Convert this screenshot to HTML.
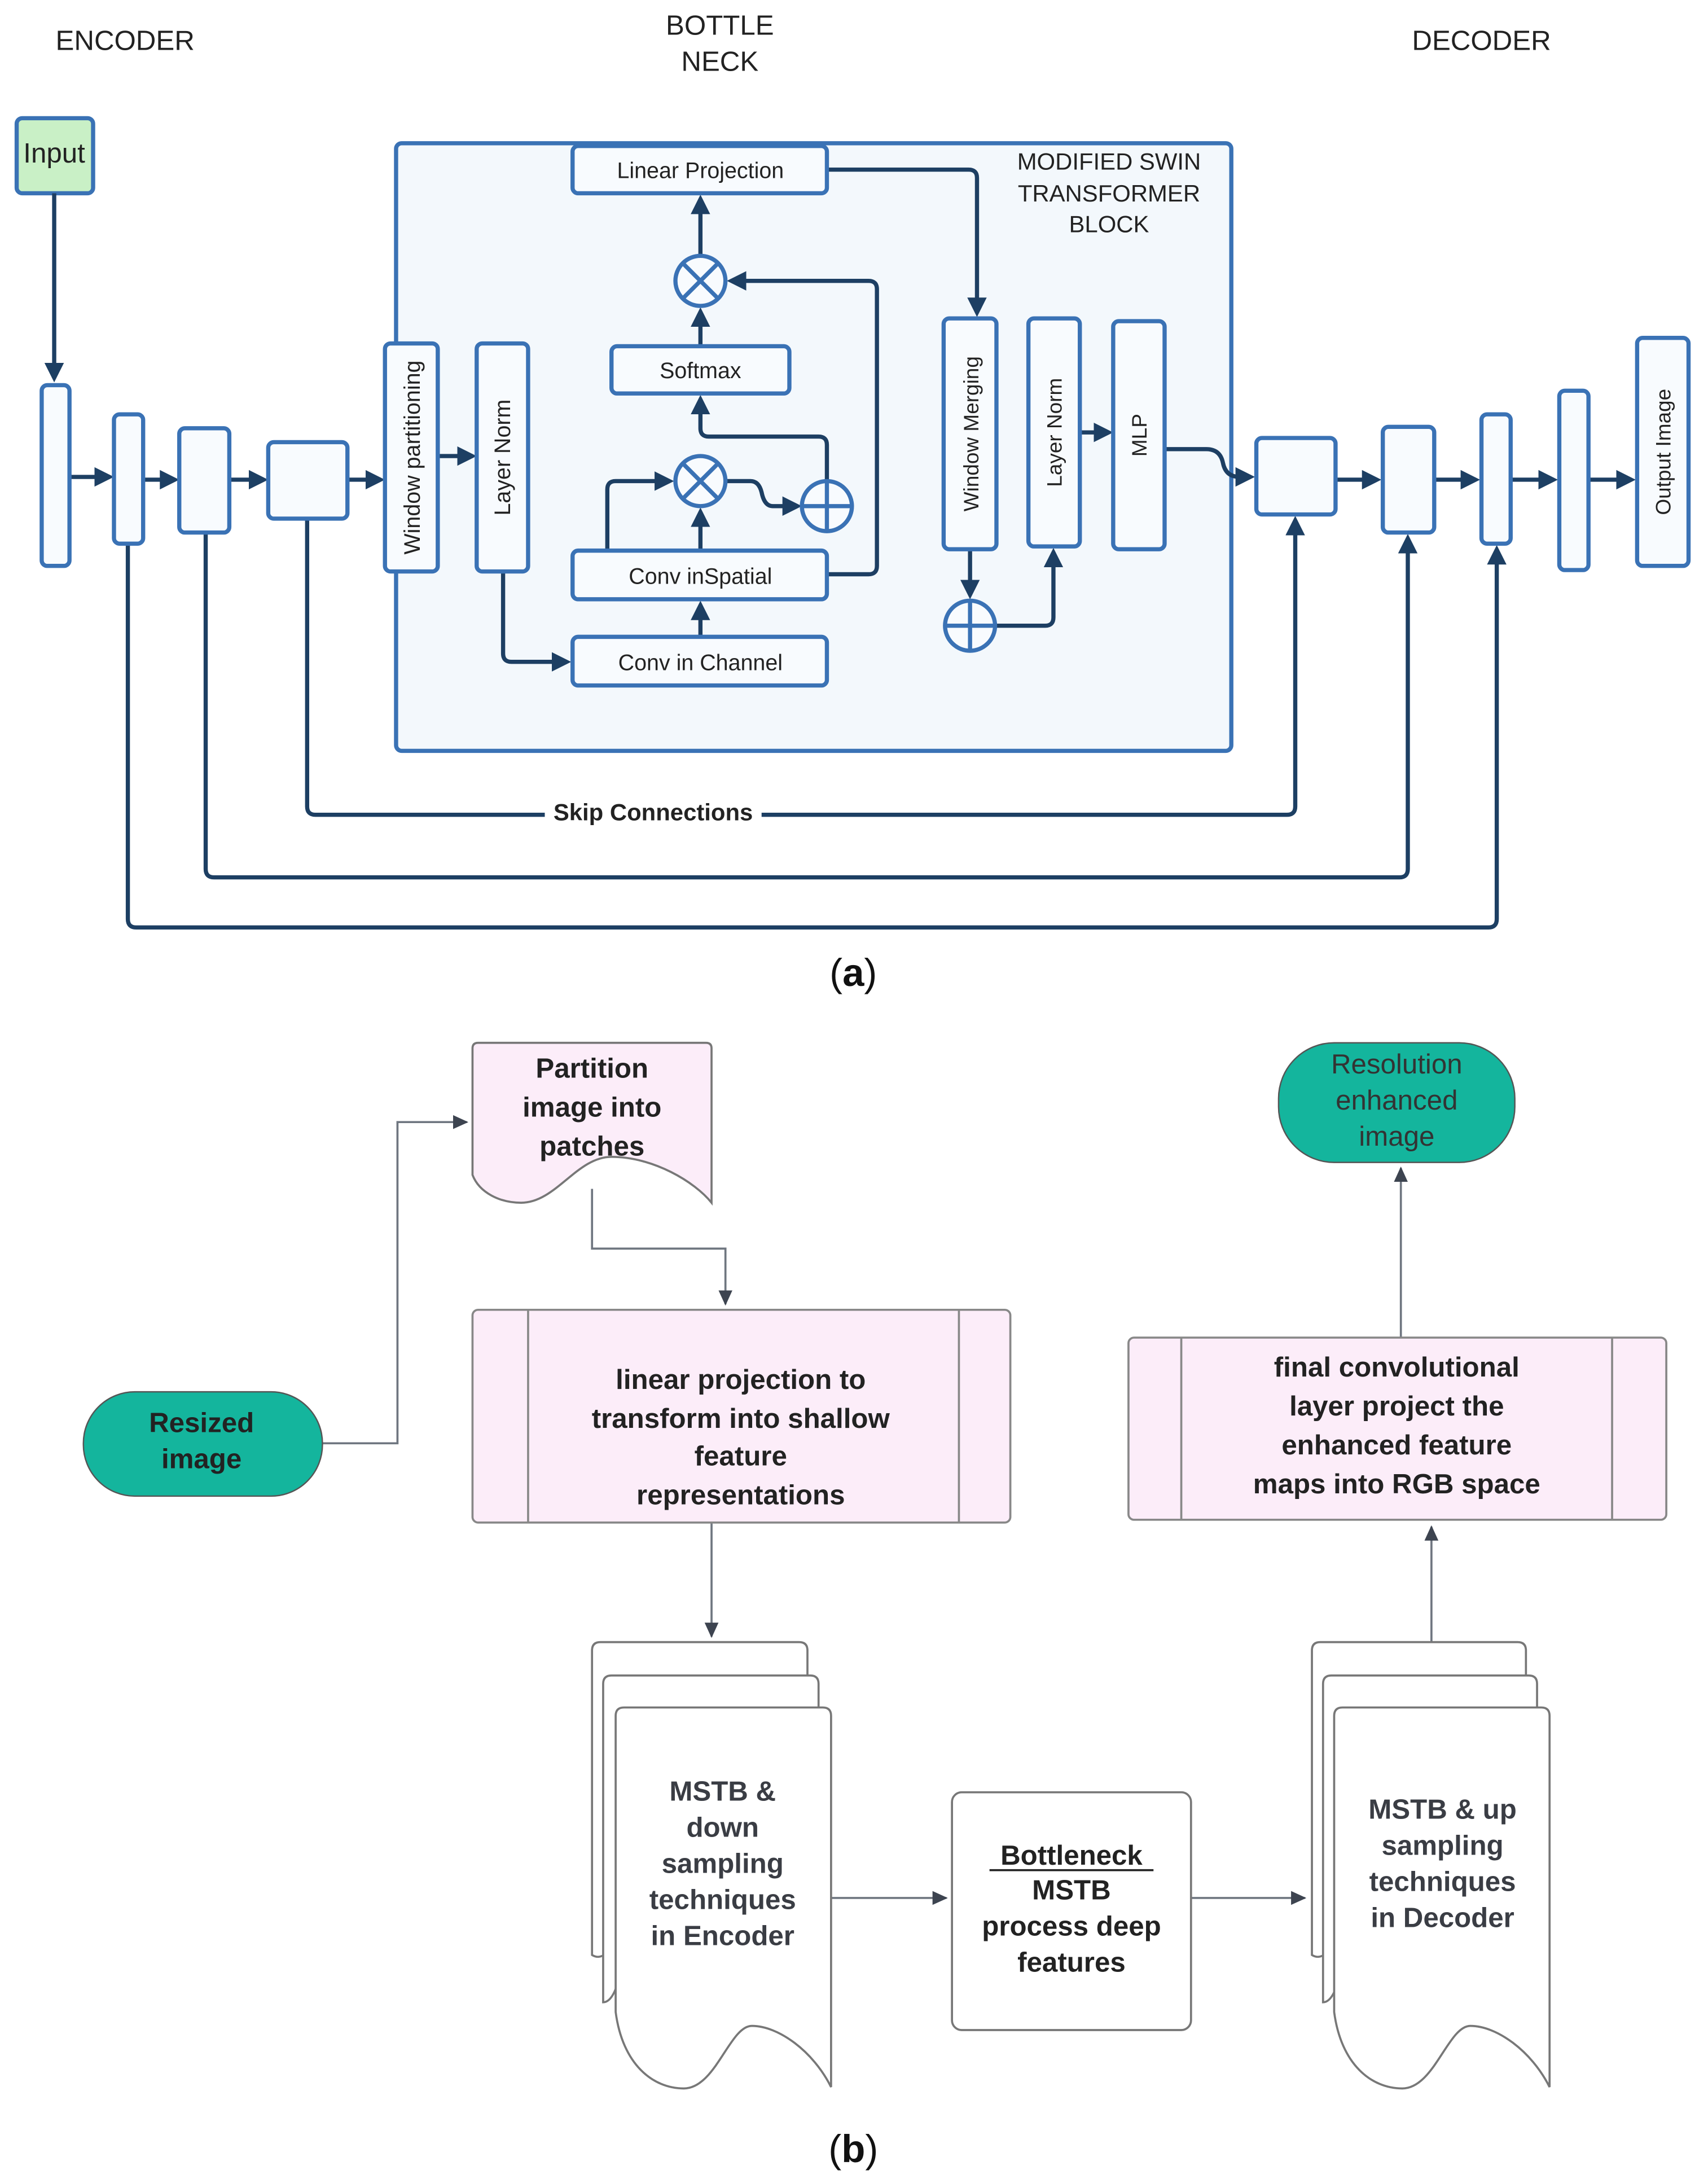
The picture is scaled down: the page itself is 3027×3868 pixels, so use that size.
<!DOCTYPE html>
<html><head><meta charset="utf-8"><style>
html,body{margin:0;padding:0;background:#fff;}
svg{display:block;}
text{font-family:"Liberation Sans",sans-serif;}
</style></head><body>
<svg width="3027" height="3868" viewBox="0 0 1229 1570" preserveAspectRatio="none" xmlns="http://www.w3.org/2000/svg">
<defs>
<marker id="a" markerWidth="16" markerHeight="16" refX="11" refY="7" orient="auto" markerUnits="userSpaceOnUse"><path d="M0,0 L14,7 L0,14 z" fill="#1d3f63"/></marker>
<marker id="g" markerWidth="12" markerHeight="12" refX="10" refY="6" orient="auto" markerUnits="userSpaceOnUse"><path d="M0,1 L11,6 L0,11 z" fill="#3d4450"/></marker>
</defs>
<rect width="1229" height="1570" fill="#fff"/>
<g font-size="20" fill="#222" text-anchor="middle">
<text x="90" y="36">ENCODER</text>
<text x="518" y="25">BOTTLE</text><text x="518" y="51">NECK</text>
<text x="1066" y="36">DECODER</text>
</g>
<rect x="285" y="103" width="601" height="437" rx="4" fill="#f3f8fc" stroke="#3a72b5" stroke-width="3"/>
<g font-size="17" fill="#222" text-anchor="middle">
<text x="798" y="122">MODIFIED SWIN</text><text x="798" y="145">TRANSFORMER</text><text x="798" y="167">BLOCK</text>
</g>
<rect x="12" y="85" width="55" height="54" rx="4" fill="#c9f0c6" stroke="#3a72b5" stroke-width="3"/>
<text x="39" y="117" font-size="20" text-anchor="middle" fill="#222">Input</text>
<g stroke="#1d3f63" stroke-width="3" fill="none">
<line x1="39" y1="139" x2="39" y2="272" marker-end="url(#a)"/>
<line x1="50" y1="343" x2="79" y2="343" marker-end="url(#a)"/>
<line x1="103" y1="345" x2="126" y2="345" marker-end="url(#a)"/>
<line x1="165" y1="345" x2="190" y2="345" marker-end="url(#a)"/>
<line x1="250" y1="345" x2="274" y2="345" marker-end="url(#a)"/>
<line x1="315" y1="328" x2="340" y2="328" marker-end="url(#a)"/>
<line x1="504" y1="249" x2="504" y2="224" marker-end="url(#a)"/>
<line x1="504" y1="184" x2="504" y2="143" marker-end="url(#a)"/>
<line x1="504" y1="396" x2="504" y2="368" marker-end="url(#a)"/>
<line x1="504" y1="458" x2="504" y2="435" marker-end="url(#a)"/>
<path d="M437,396 V352 Q437,346 443,346 H482" marker-end="url(#a)"/>
<path d="M522,346 H540 Q546,346 548,354 Q550,364 556,364 H574" marker-end="url(#a)"/>
<path d="M595,346 V320 Q595,314 589,314 H510 Q504,314 504,308 V287" marker-end="url(#a)"/>
<path d="M595,413 H625 Q631,413 631,407 V208 Q631,202 625,202 H526" marker-end="url(#a)"/>
<path d="M362,411 V470 Q362,476 368,476 H408" marker-end="url(#a)"/>
<path d="M595,122 H697 Q703,122 703,128 V225" marker-end="url(#a)"/>
<line x1="698" y1="395" x2="698" y2="428" marker-end="url(#a)"/>
<path d="M716,450 H752 Q758,450 758,444 V397" marker-end="url(#a)"/>
<line x1="777" y1="311" x2="798" y2="311" marker-end="url(#a)"/>
<path d="M838,323 H868 Q878,323 880,333 Q882,343 892,343 H900" marker-end="url(#a)"/>
<line x1="961" y1="345" x2="991" y2="345" marker-end="url(#a)"/>
<line x1="1032" y1="345" x2="1062" y2="345" marker-end="url(#a)"/>
<line x1="1087" y1="345" x2="1118" y2="345" marker-end="url(#a)"/>
<line x1="1143" y1="345" x2="1174" y2="345" marker-end="url(#a)"/>
<path d="M221,373 V580 Q221,586 227,586 H926 Q932,586 932,580 V374" marker-end="url(#a)"/>
<path d="M148,383 V625 Q148,631 154,631 H1007 Q1013,631 1013,625 V387" marker-end="url(#a)"/>
<path d="M92,391 V661 Q92,667 98,667 H1071 Q1077,667 1077,661 V395" marker-end="url(#a)"/>
</g>
<rect x="392" y="574" width="156" height="20" fill="#fff"/>
<text x="470" y="590" font-size="17" font-weight="bold" text-anchor="middle" fill="#222">Skip Connections</text>
<g fill="#f8fbfe" stroke="#3a72b5" stroke-width="3">
<rect x="30" y="277" width="20" height="130" rx="4"/>
<rect x="82" y="298" width="21" height="93" rx="4"/>
<rect x="129" y="308" width="36" height="75" rx="4"/>
<rect x="193" y="318" width="57" height="55" rx="4"/>
<rect x="277" y="247" width="38" height="164" rx="4"/>
<rect x="343" y="247" width="37" height="164" rx="4"/>
<rect x="412" y="105" width="183" height="34" rx="4"/>
<rect x="440" y="249" width="128" height="34" rx="4"/>
<rect x="412" y="396" width="183" height="35" rx="4"/>
<rect x="412" y="458" width="183" height="35" rx="4"/>
<rect x="679" y="229" width="38" height="166" rx="4"/>
<rect x="740" y="229" width="37" height="164" rx="4"/>
<rect x="801" y="231" width="37" height="164" rx="4"/>
<rect x="904" y="315" width="57" height="55" rx="4"/>
<rect x="995" y="307" width="37" height="76" rx="4"/>
<rect x="1066" y="298" width="21" height="93" rx="4"/>
<rect x="1122" y="281" width="21" height="129" rx="4"/>
<rect x="1178" y="243" width="37" height="164" rx="4"/>
</g>
<g fill="#f8fbfe" stroke="#3a72b5" stroke-width="3">
<circle cx="504" cy="202" r="18"/><circle cx="504" cy="346" r="18"/><circle cx="595" cy="364" r="18"/><circle cx="698" cy="450" r="18"/>
</g>
<g stroke="#3a72b5" stroke-width="3">
<path d="M491,189 L517,215 M517,189 L491,215"/>
<path d="M491,333 L517,359 M517,333 L491,359"/>
<path d="M577,364 H613 M595,346 V382"/>
<path d="M680,450 H716 M698,432 V468"/>
</g>
<g font-size="16" fill="#222" text-anchor="middle">
<text x="504" y="128">Linear Projection</text>
<text x="504" y="272">Softmax</text>
<text x="504" y="420">Conv inSpatial</text>
<text x="504" y="482">Conv in Channel</text>
<text transform="translate(302,329) rotate(-90)">Window partitioning</text>
<text transform="translate(367,329) rotate(-90)">Layer Norm</text>
<text transform="translate(704,312) rotate(-90)" font-size="15">Window Merging</text>
<text transform="translate(764,311) rotate(-90)" font-size="15">Layer Norm</text>
<text transform="translate(825,313) rotate(-90)" font-size="15">MLP</text>
<text transform="translate(1202,325) rotate(-90)" font-size="15">Output Image</text>
</g>
<text x="614" y="709" font-family="Liberation Serif,serif" font-size="28" text-anchor="middle" fill="#111">(<tspan font-weight="bold">a</tspan>)</text>

<g stroke="#6f7680" stroke-width="1.5" fill="none">
<path d="M232,1038 H286 V807 H336" marker-end="url(#g)"/>
<path d="M426,855 V898 H522 V938" marker-end="url(#g)"/>
<path d="M512,1095 V1177" marker-end="url(#g)"/>
<path d="M598,1365 H681" marker-end="url(#g)"/>
<path d="M857,1365 H939" marker-end="url(#g)"/>
<path d="M1030,1181 V1098" marker-end="url(#g)"/>
<path d="M1008,962 V840" marker-end="url(#g)"/>
</g>
<path d="M344,750 H508 Q512,750 512,754 V865 C500,850 470,832 440,832 C415,832 400,865 375,865 C360,865 345,858 340,845 V754 Q340,750 344,750 Z" fill="#fcedf9" stroke="#777" stroke-width="1.5"/>
<g font-size="20" font-weight="bold" fill="#222" text-anchor="middle">
<text x="426" y="775">Partition</text><text x="426" y="803">image into</text><text x="426" y="831">patches</text>
</g>
<rect x="60" y="1001" width="172" height="75" rx="37" fill="#14b59d" stroke="#555" stroke-width="1"/>
<g font-size="20" font-weight="bold" fill="#222" text-anchor="middle"><text x="145" y="1030">Resized</text><text x="145" y="1056">image</text></g>
<rect x="920" y="750" width="170" height="86" rx="40" fill="#14b59d" stroke="#555" stroke-width="1"/>
<g font-size="20" fill="#333" text-anchor="middle"><text x="1005" y="772">Resolution</text><text x="1005" y="798">enhanced</text><text x="1005" y="824">image</text></g>
<g fill="#fcedf9" stroke="#888" stroke-width="1.5">
<rect x="340" y="942" width="387" height="153" rx="4"/>
<rect x="812" y="962" width="387" height="131" rx="4"/>
</g>
<g stroke="#888" stroke-width="1.5"><path d="M380,942 V1095 M690,942 V1095 M850,962 V1093 M1160,962 V1093"/></g>
<g font-size="20" font-weight="bold" fill="#222" text-anchor="middle">
<text x="533" y="999">linear projection to</text><text x="533" y="1027">transform  into shallow</text><text x="533" y="1054">feature</text><text x="533" y="1082">representations</text>
<text x="1005" y="990">final convolutional</text><text x="1005" y="1018">layer project the</text><text x="1005" y="1046">enhanced feature</text><text x="1005" y="1074">maps into RGB space</text>
</g>
<g fill="#fff" stroke="#777" stroke-width="1.5">
<path d="M432,1181 H575 Q581,1181 581,1187 V1390 H446 C440,1405 432,1410 426,1406 V1187 Q426,1181 432,1181 Z"/>
<path d="M440,1205 H583 Q589,1205 589,1211 V1410 H448 C445,1430 440,1440 434,1440 V1211 Q434,1205 440,1205 Z"/>
<path d="M449,1228 H592 Q598,1228 598,1234 V1501 C585,1475 560,1457 541,1457 C525,1457 515,1502 492,1502 C470,1502 448,1485 443,1447 V1234 Q443,1228 449,1228 Z"/>
<path d="M950,1181 H1092 Q1098,1181 1098,1187 V1390 H964 C958,1405 950,1410 944,1406 V1187 Q944,1181 950,1181 Z"/>
<path d="M958,1205 H1100 Q1106,1205 1106,1211 V1410 H966 C963,1430 958,1440 952,1440 V1211 Q952,1205 958,1205 Z"/>
<path d="M966,1228 H1109 Q1115,1228 1115,1234 V1501 C1102,1475 1077,1457 1058,1457 C1042,1457 1032,1502 1009,1502 C987,1502 965,1485 960,1447 V1234 Q960,1228 966,1228 Z"/>
<rect x="685" y="1289" width="172" height="171" rx="7"/>
</g>
<g font-size="20" font-weight="bold" fill="#3a3d44" text-anchor="middle">
<text x="520" y="1295">MSTB &amp;</text><text x="520" y="1321">down</text><text x="520" y="1347">sampling</text><text x="520" y="1373">techniques</text><text x="520" y="1399">in Encoder</text>
<text x="1038" y="1308">MSTB &amp; up</text><text x="1038" y="1334">sampling</text><text x="1038" y="1360">techniques</text><text x="1038" y="1386">in Decoder</text>
<text x="771" y="1341" fill="#222">Bottleneck</text><text x="771" y="1366" fill="#222">MSTB</text><text x="771" y="1392" fill="#222">process deep</text><text x="771" y="1418" fill="#222">features</text>
</g>
<line x1="712" y1="1345" x2="830" y2="1345" stroke="#222" stroke-width="1.5"/>
<text x="614" y="1555" font-family="Liberation Serif,serif" font-size="28" text-anchor="middle" fill="#111">(<tspan font-weight="bold">b</tspan>)</text>
</svg>
</body></html>
